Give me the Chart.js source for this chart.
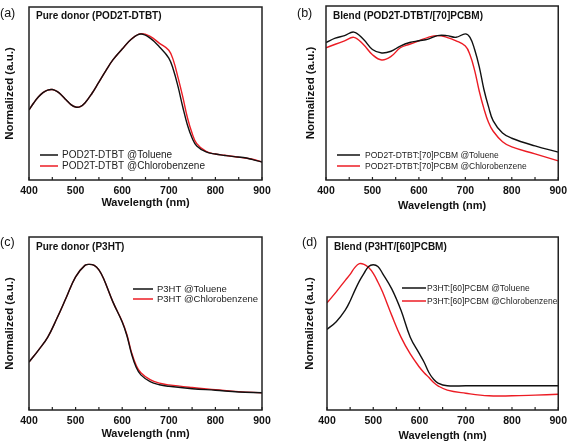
<!DOCTYPE html>
<html>
<head>
<meta charset="utf-8">
<script src="https://cdn.jsdelivr.net/npm/chart.js@4.4.1/dist/chart.umd.min.js"></script>
<style>
  body { margin: 0; background: #fff; }
  #wrap { position: relative; width: 572px; height: 445px; }
  canvas { position: absolute; }
</style>
</head>
<body>
<div id="wrap">
  <canvas id="pa" width="286" height="222" style="left:0;top:0"></canvas>
  <canvas id="pb" width="286" height="222" style="left:286px;top:0"></canvas>
  <canvas id="pc" width="286" height="223" style="left:0;top:222px"></canvas>
  <canvas id="pd" width="286" height="223" style="left:286px;top:222px"></canvas>
</div>
<script>
// x ticks
const xTicks = [400, 500, 600, 700, 800, 900];

// (a) pure donor POD2T-DTBT
const wlA = [400, 410, 420, 430, 440, 450, 460, 470, 480, 490, 500, 510, 520, 535, 550, 565, 580, 600, 620, 640, 660, 680, 700, 710, 720, 730, 740, 750, 760, 780, 800, 820, 840, 860, 880, 900];
const aToluene = [0.405, 0.445, 0.48, 0.505, 0.52, 0.523, 0.512, 0.49, 0.462, 0.436, 0.422, 0.424, 0.445, 0.5, 0.566, 0.632, 0.694, 0.757, 0.815, 0.844, 0.82, 0.769, 0.705, 0.636, 0.538, 0.422, 0.318, 0.243, 0.197, 0.162, 0.15, 0.142, 0.135, 0.13, 0.118, 0.104];
const aChloro = [0.405, 0.445, 0.48, 0.505, 0.52, 0.523, 0.512, 0.49, 0.462, 0.436, 0.422, 0.424, 0.445, 0.5, 0.566, 0.632, 0.694, 0.757, 0.815, 0.846, 0.83, 0.79, 0.75, 0.69, 0.59, 0.48, 0.36, 0.27, 0.21, 0.165, 0.15, 0.143, 0.136, 0.128, 0.12, 0.104];

// (b) blend POD2T-DTBT/[70]PCBM
const wlB = [400, 420, 440, 460, 480, 500, 520, 540, 560, 580, 600, 620, 640, 660, 680, 700, 710, 720, 730, 740, 750, 760, 780, 800, 850, 900];
const bToluene = [0.79, 0.815, 0.83, 0.85, 0.81, 0.75, 0.73, 0.74, 0.77, 0.79, 0.80, 0.81, 0.83, 0.83, 0.82, 0.84, 0.82, 0.75, 0.65, 0.52, 0.42, 0.34, 0.27, 0.24, 0.196, 0.16];
const bChloro = [0.76, 0.78, 0.80, 0.82, 0.78, 0.72, 0.69, 0.71, 0.76, 0.78, 0.80, 0.82, 0.83, 0.82, 0.80, 0.77, 0.72, 0.63, 0.51, 0.41, 0.33, 0.28, 0.22, 0.19, 0.15, 0.11];

// (c) pure donor P3HT
const wlC = [400, 420, 440, 460, 480, 500, 520, 530, 540, 550, 560, 580, 600, 610, 620, 630, 640, 660, 680, 700, 750, 800, 850, 900];
const cToluene = [0.277, 0.345, 0.42, 0.53, 0.65, 0.77, 0.836, 0.842, 0.836, 0.81, 0.76, 0.625, 0.509, 0.431, 0.325, 0.247, 0.203, 0.164, 0.146, 0.137, 0.123, 0.114, 0.104, 0.10];
const cChloro = [0.277, 0.345, 0.42, 0.53, 0.65, 0.77, 0.836, 0.842, 0.836, 0.81, 0.76, 0.625, 0.512, 0.436, 0.333, 0.258, 0.215, 0.175, 0.155, 0.145, 0.13, 0.118, 0.106, 0.10];

// (d) blend P3HT/[60]PCBM
const wlD = [400, 420, 440, 450, 460, 470, 480, 490, 500, 510, 520, 540, 560, 580, 600, 610, 620, 630, 640, 660, 700, 750, 800, 850, 900];
const dToluene = [0.466, 0.51, 0.58, 0.63, 0.69, 0.745, 0.79, 0.83, 0.84, 0.83, 0.79, 0.70, 0.576, 0.421, 0.324, 0.276, 0.218, 0.179, 0.156, 0.14, 0.14, 0.14, 0.14, 0.14, 0.14];
const dChloro = [0.619, 0.683, 0.751, 0.784, 0.823, 0.846, 0.842, 0.823, 0.79, 0.74, 0.683, 0.547, 0.421, 0.324, 0.247, 0.215, 0.189, 0.16, 0.14, 0.115, 0.097, 0.082, 0.082, 0.086, 0.091];

const BLACK = '#111111';
const RED = '#ec1c24';
const FONT = "'Liberation Sans', Arial, sans-serif";

function pts(wl, ys) {
  return wl.map((x, i) => ({ x: x, y: ys[i] }));
}

// frame, inward ticks, panel letter, panel title, legend
const decor = {
  id: 'decor',
  afterDatasetsDraw(chart, args, o) {
    const ctx = chart.ctx;
    const a = chart.chartArea;
    const xs = chart.scales.x;
    ctx.save();
    ctx.strokeStyle = '#222';
    ctx.lineWidth = 1.2;
    ctx.beginPath();
    for (let v = 400; v <= 900; v += 50) {
      const px = xs.getPixelForValue(v);
      ctx.moveTo(px, a.bottom);
      ctx.lineTo(px, a.bottom - 3);
    }
    ctx.stroke();
    ctx.lineWidth = 1.5;
    ctx.strokeRect(a.left, a.top, a.right - a.left, a.bottom - a.top);

    ctx.fillStyle = '#111';
    ctx.textBaseline = 'middle';
    ctx.textAlign = 'left';
    ctx.font = '12.5px ' + FONT;
    ctx.fillText(o.letter, o.letterX, o.letterY);
    ctx.font = 'bold 10px ' + FONT;
    ctx.fillText(o.title, a.left + 7, o.titleY);

    const lg = o.legend;
    ctx.font = lg.size + 'px ' + FONT;
    chart.data.datasets.forEach((ds, i) => {
      const y = lg.rows[i];
      ctx.strokeStyle = ds.borderColor;
      ctx.lineWidth = 1.5;
      ctx.beginPath();
      ctx.moveTo(lg.x0, y);
      ctx.lineTo(lg.x1, y);
      ctx.stroke();
      ctx.fillStyle = '#222';
      ctx.fillText(ds.label, lg.tx, y + 0.5);
    });
    ctx.restore();
  }
};

function makePanel(id, wl, tol, chl, names, box) {
  new Chart(document.getElementById(id), {
    type: 'line',
    data: {
      datasets: [
        { label: names[0], data: pts(wl, tol), borderColor: BLACK, borderWidth: 1.4, pointRadius: 0, tension: 0.4 },
        { label: names[1], data: pts(wl, chl), borderColor: RED, borderWidth: 1.4, pointRadius: 0, tension: 0.4 }
      ]
    },
    options: {
      responsive: false,
      animation: false,
      layout: { padding: { top: box.top, right: box.right, left: 0, bottom: 0 } },
      plugins: {
        legend: { display: false },
        tooltip: { enabled: false },
        decor: box.decor
      },
      scales: {
        x: {
          type: 'linear',
          min: 400,
          max: 900,
          afterBuildTicks: s => { s.ticks = xTicks.map(v => ({ value: v })); },
          afterFit: s => { s.height = box.xh; },
          grid: { display: false, drawTicks: false },
          border: { display: false },
          ticks: { padding: 5, color: '#111', font: { family: FONT, size: 10.5, weight: 'bold' } },
          title: { display: true, text: 'Wavelength (nm)', color: '#111', padding: { top: 0, bottom: box.xtp }, font: { family: FONT, size: 11, weight: 'bold' } }
        },
        y: {
          min: 0,
          max: 1,
          afterFit: s => { s.width = box.left; },
          grid: { display: false },
          border: { display: false },
          ticks: { display: false },
          title: { display: true, text: 'Normalized (a.u.)', color: '#111', padding: { top: box.ytp, bottom: 0 }, font: { family: FONT, size: 11.5, weight: 'bold' } }
        }
      }
    },
    plugins: [decor]
  });
}

makePanel('pa', wlA, aToluene, aChloro, ['POD2T-DTBT @Toluene', 'POD2T-DTBT @Chlorobenzene'], {
  top: 7, right: 24, left: 29, xh: 42, xtp: 12, ytp: 3,
  decor: { letter: '(a)', letterX: 0, letterY: 14, title: 'Pure donor (POD2T-DTBT)', titleY: 16,
    legend: { x0: 40, x1: 58, tx: 62, rows: [155, 166], size: 10 } }
});
makePanel('pb', wlB, bToluene, bChloro, ['POD2T-DTBT:[70]PCBM @Toluene', 'POD2T-DTBT:[70]PCBM @Chlorobenzene'], {
  top: 6, right: 11, left: 40, xh: 42, xtp: 9, ytp: 18,
  decor: { letter: '(b)', letterX: 11, letterY: 14, title: 'Blend (POD2T-DTBT/[70]PCBM)', titleY: 16,
    legend: { x0: 51, x1: 74, tx: 79, rows: [155, 166], size: 8.5 } }
});
makePanel('pc', wlC, cToluene, cChloro, ['P3HT @Toluene', 'P3HT @Chlorobenzene'], {
  top: 15, right: 24, left: 29, xh: 35, xtp: 4, ytp: 3,
  decor: { letter: '(c)', letterX: 0, letterY: 21, title: 'Pure donor (P3HT)', titleY: 25,
    legend: { x0: 133, x1: 153, tx: 157, rows: [67, 77], size: 9.5 } }
});
makePanel('pd', wlD, dToluene, dChloro, ['P3HT:[60]PCBM @Toluene', 'P3HT:[60]PCBM @Chlorobenzene'], {
  top: 15, right: 11, left: 41, xh: 35, xtp: 2, ytp: 17,
  decor: { letter: '(d)', letterX: 16, letterY: 21, title: 'Blend (P3HT/[60]PCBM)', titleY: 25,
    legend: { x0: 116, x1: 140, tx: 141, rows: [66, 79], size: 8.5 } }
});
</script>
</body>
</html>
